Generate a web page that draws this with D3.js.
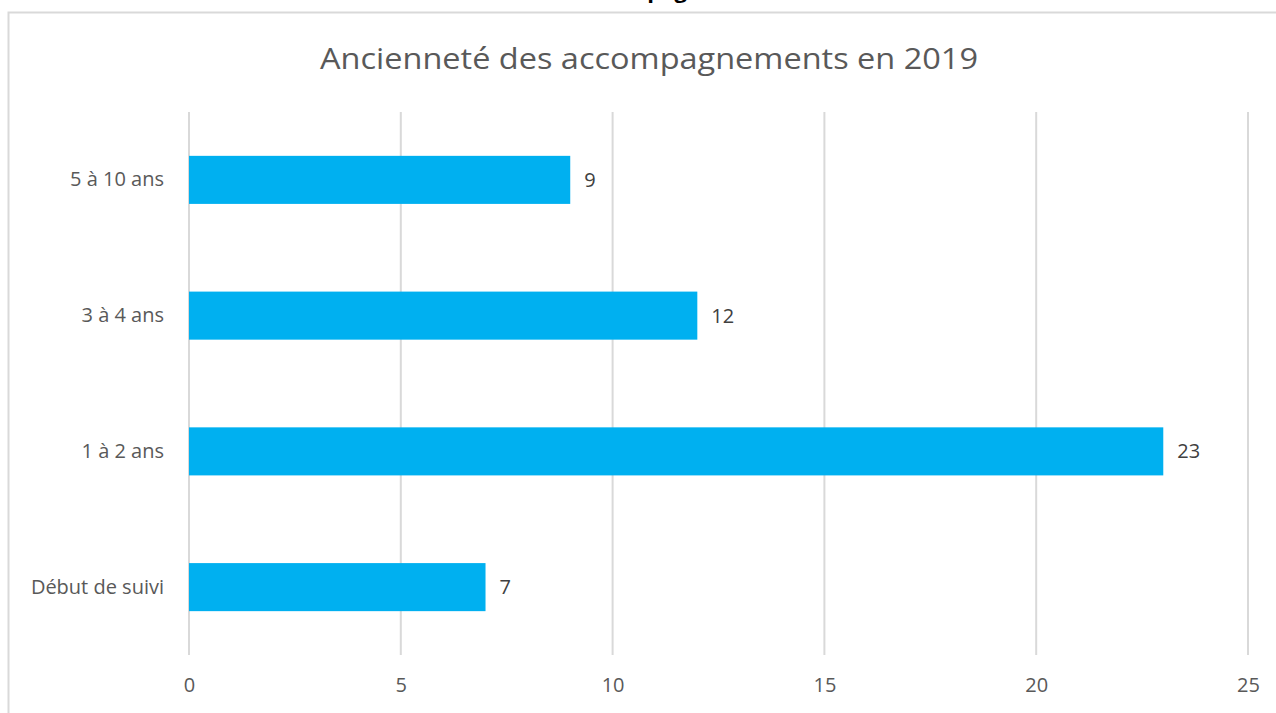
<!DOCTYPE html>
<html>
<head>
<meta charset="utf-8">
<script src="https://cdn.jsdelivr.net/npm/d3@7"></script>
<style>
  body { margin: 0; background: #fff; }
  svg { display: block; }
</style>
</head>
<body>
<svg id="chart" width="1276" height="713"></svg>
<script>
// data
const categories = ["Début de suivi", "1 à 2 ans", "3 à 4 ans", "5 à 10 ans"];
const values = [7, 23, 12, 9];
const xTicks = [0, 5, 10, 15, 20, 25];
const title = "Ancienneté des accompagnements en 2019";

const drawChart = function () {
  let svg = d3.select("svg#chart");
  const font = "'Open Sans', Lato, sans-serif";

  // page text cut off above the chart
  svg.append("text")
    .attr("x", 667)
    .attr("y", -2)
    .attr("text-anchor", "middle")
    .style("font-family", font)
    .style("font-weight", "bold")
    .style("font-size", "22px")
    .style("fill", "#000")
    .text("pag");

  // chart frame
  svg.append("rect")
    .attr("x", 8.5)
    .attr("y", 12.5)
    .attr("width", 1300)
    .attr("height", 740)
    .style("fill", "#fff")
    .style("stroke", "#d9d9d9")
    .style("stroke-width", 2);

  const margin = { left: 189, right: 1248, top: 112, bottom: 655 };

  const x = d3.scaleLinear().domain([0, 25]).range([margin.left, margin.right]);
  const y = d3.scaleBand()
    .domain(categories.slice().reverse())
    .range([margin.top, margin.bottom])
    .paddingInner(0.646)
    .paddingOuter(0.323);

  // gridlines
  svg.append("g")
    .selectAll("line.grid")
    .data(xTicks)
    .join("line")
    .attr("class", "grid")
    .attr("x1", d => x(d))
    .attr("x2", d => x(d))
    .attr("y1", margin.top)
    .attr("y2", margin.bottom)
    .style("stroke", "#d9d9d9")
    .style("stroke-width", 2);

  // x axis labels
  const xAxis = d3.axisBottom(x).tickValues(xTicks).tickSize(0).tickPadding(0);
  const gx = svg.append("g")
    .attr("transform", `translate(0, ${margin.bottom + 23})`)
    .call(xAxis);
  gx.select(".domain").remove();
  gx.selectAll("text")
    .attr("dy", "0.71em")
    .style("font-family", font)
    .style("font-size", "20px")
    .style("fill", "#595959");

  // y axis labels
  const yAxis = d3.axisLeft(y).tickSize(0).tickPadding(25);
  const gy = svg.append("g")
    .attr("transform", `translate(${margin.left}, 0)`)
    .call(yAxis);
  gy.select(".domain").remove();
  gy.selectAll("text")
    .style("font-family", font)
    .style("font-size", "20px")
    .style("fill", "#595959");

  // bars
  svg.append("g")
    .selectAll("rect.bar")
    .data(categories)
    .join("rect")
    .attr("class", "bar")
    .attr("x", x(0))
    .attr("y", d => y(d))
    .attr("width", (d, i) => x(values[i]) - x(0))
    .attr("height", y.bandwidth())
    .style("fill", "#00b0f0");

  // value labels
  svg.append("g")
    .selectAll("text.val")
    .data(categories)
    .join("text")
    .attr("class", "val")
    .attr("x", (d, i) => x(values[i]) + 14)
    .attr("y", d => y(d) + y.bandwidth() / 2)
    .attr("dy", "0.35em")
    .style("font-family", font)
    .style("font-size", "20px")
    .style("fill", "#404040")
    .text((d, i) => values[i]);

  // title
  svg.append("text")
    .attr("x", 649)
    .attr("y", 69)
    .attr("text-anchor", "middle")
    .attr("textLength", 658)
    .attr("lengthAdjust", "spacingAndGlyphs")
    .style("font-family", font)
    .style("font-size", "30px")
    .style("fill", "#595959")
    .text(title);
};

drawChart();
</script>
</body>
</html>
